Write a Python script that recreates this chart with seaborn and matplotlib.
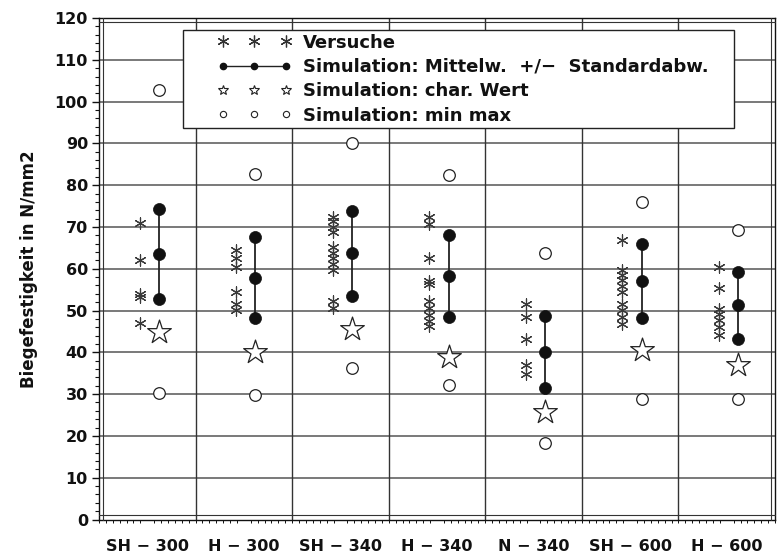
import numpy as np
import pandas as pd
import matplotlib
matplotlib.use("Agg")
import matplotlib.pyplot as plt
import matplotlib.transforms as mtransforms
from matplotlib.lines import Line2D
from matplotlib.legend_handler import HandlerLine2D
from matplotlib.ticker import MultipleLocator
import seaborn as sns

# Wood grades
groups = ["SH-300", "H-300", "SH-340", "H-340", "N-340", "SH-600", "H-600"]
tick_labels = ["SH \u2212 300", "H \u2212 300", "SH \u2212 340", "H \u2212 340",
               "N \u2212 340", "SH \u2212 600", "H \u2212 600"]

# Test results (Versuche), N/mm2
tests_sh300 = [71.0, 62.0, 54.0, 53.3, 47.0]
tests_h300 = [64.5, 62.5, 60.5, 54.5, 51.5, 50.2]
tests_sh340 = [72.5, 71.5, 70.0, 68.7, 65.2, 63.8, 62.5, 61.2, 59.6, 52.3, 50.6]
tests_h340 = [72.3, 70.8, 62.5, 57.0, 56.4, 52.2, 50.5, 48.9, 47.6, 46.4]
tests_n340 = [51.6, 48.5, 43.3, 37.0, 34.7]
tests_sh600 = [66.9, 59.7, 58.5, 57.2, 55.9, 54.5, 51.6, 50.1, 48.5, 46.8]
tests_h600 = [60.5, 55.3, 50.3, 49.2, 47.7, 46.1, 44.2]

# Simulation results
sim_mean = [63.5, 57.9, 63.7, 58.3, 40.1, 57.1, 51.3]
sim_sd = [10.8, 9.6, 10.2, 9.8, 8.6, 8.8, 8.0]
sim_char = [44.9, 40.1, 45.7, 39.0, 25.8, 40.6, 37.0]
sim_min = [30.2, 29.8, 36.2, 32.2, 18.2, 28.8, 28.8]
sim_max = [102.7, 82.7, 90.1, 82.4, 63.7, 76.0, 69.3]

tests_all = [tests_sh300, tests_h300, tests_sh340, tests_h340,
             tests_n340, tests_sh600, tests_h600]

sns.set_style("white")
plt.rcParams["font.family"] = ["DejaVu Sans"]
plt.rcParams["font.weight"] = "bold"
for key in ["text.color", "axes.labelcolor", "xtick.color", "ytick.color"]:
    plt.rcParams[key] = "#111111"

TEST_OFF = -0.08
SIM_OFF = 0.12

df_tests = pd.DataFrame(
    [(i + TEST_OFF, v) for i, vals in enumerate(tests_all) for v in vals],
    columns=["x", "value"])
df_sim = pd.DataFrame({
    "x": np.arange(len(groups)) + SIM_OFF,
    "mean": sim_mean,
    "sd": sim_sd,
    "char": sim_char,
    "min": sim_min,
    "max": sim_max,
})
df_sim["lo"] = df_sim["mean"] - df_sim["sd"]
df_sim["hi"] = df_sim["mean"] + df_sim["sd"]

fig = plt.figure(figsize=(7.84, 5.55), dpi=100)
ax = fig.add_axes([99 / 784, 1 - 519.5 / 555, (775 - 99) / 784, (519.5 - 18) / 555])

ax.set_xlim(-0.5, 6.5)
ax.set_ylim(0, 120)

# grid: horizontal lines every 10, vertical separators between grades
for y in range(10, 120, 10):
    ax.axhline(y, color="#555555", lw=1.1, zorder=0)
for xs in np.arange(0.5, 6.0, 1.0):
    ax.axvline(xs, color="#333333", lw=1.0, zorder=0)

asterisk = (6, 2, 0)

# test values
sns.scatterplot(data=df_tests, x="x", y="value", ax=ax, marker=asterisk,
                s=65, color="#3a3a3a", linewidth=0.85, edgecolor="#3a3a3a",
                legend=False, zorder=3)

# simulation mean +/- sd
ax.vlines(df_sim["x"], df_sim["lo"], df_sim["hi"], color="#222222", lw=1.3, zorder=3)
for col in ["lo", "mean", "hi"]:
    sns.scatterplot(data=df_sim, x="x", y=col, ax=ax, marker="o", s=75,
                    color="#111111", edgecolor="#111111", linewidth=0.5,
                    legend=False, zorder=4)

# characteristic value
sns.scatterplot(data=df_sim, x="x", y="char", ax=ax, marker="*", s=320,
                facecolor="white", edgecolor="#222222", linewidth=0.9,
                legend=False, zorder=4)

# min / max
for col in ["min", "max"]:
    sns.scatterplot(data=df_sim, x="x", y=col, ax=ax, marker="o", s=70,
                    facecolor="white", edgecolor="#222222", linewidth=0.9,
                    legend=False, zorder=4)

ax.set_xlabel("")
ax.set_ylabel("Biegefestigkeit in N/mm2", fontsize=12, fontweight="bold",
              labelpad=12)
ax.set_xticks(range(len(groups)))
ax.set_xticklabels(tick_labels, fontsize=11.5, fontweight="bold")
ax.set_yticks(range(0, 121, 10))
ax.set_yticklabels([str(v) for v in range(0, 121, 10)], fontsize=11.5,
                   fontweight="bold")
ax.yaxis.set_minor_locator(MultipleLocator(2))
ax.xaxis.set_minor_locator(MultipleLocator(1 / 14))
ax.tick_params(axis="y", which="major", direction="out", length=5, width=1,
               left=True, pad=3)
ax.tick_params(axis="y", which="minor", direction="out", length=3, width=0.8,
               left=True)
ax.tick_params(axis="x", which="major", length=0, pad=14)
ax.tick_params(axis="x", which="minor", direction="out", length=2.5, width=0.7,
               bottom=True)

for sp in ax.spines.values():
    sp.set_color("#111111")
    sp.set_linewidth(1.0)

# inner second frame line
d = 3 / 72
for (x0, y0, x1, y1, dx, dy) in [(0, 0, 1, 0, 0, d), (0, 1, 1, 1, 0, -d),
                                 (0, 0, 0, 1, d, 0), (1, 0, 1, 1, -d, 0)]:
    tr = ax.transAxes + mtransforms.ScaledTranslation(dx, dy, fig.dpi_scale_trans)
    ax.add_line(Line2D([x0, x1], [y0, y1], transform=tr, color="#333333",
                       lw=0.8, clip_on=False, zorder=5))

handles = [
    Line2D([], [], ls="none", marker=asterisk, ms=8.5, color="#333333", mew=0.9),
    Line2D([], [], ls="-", lw=1.0, color="#222222", marker="o", ms=4.5,
           mfc="#111111", mec="#111111"),
    Line2D([], [], ls="none", marker="*", ms=7.5, mfc="white", mec="#222222", mew=0.8),
    Line2D([], [], ls="none", marker="o", ms=4.5, mfc="white", mec="#222222", mew=0.8),
]
labels = ["Versuche",
          "Simulation: Mittelw.  +/\u2212  Standardabw.",
          "Simulation: char. Wert",
          "Simulation: min max"]
hmap = {h: HandlerLine2D(numpoints=3, marker_pad=2.0) for h in handles}
leg = ax.legend(handles, labels, handler_map=hmap, loc="upper left",
                bbox_to_anchor=(0.124, 0.781, 0.815, 0.195), mode="expand",
                borderaxespad=0, prop={"family": "DejaVu Sans", "weight": "bold",
                                       "size": 13},
                borderpad=0.2, labelspacing=0.35,
                handlelength=7.5, handletextpad=-1.05, frameon=True,
                fancybox=False, framealpha=1, edgecolor="#222222")
leg.get_frame().set_linewidth(1.0)
leg.set_zorder(6)
for t in leg.get_texts():
    t.set_color("#111111")

fig.savefig("out.png", dpi=100)
